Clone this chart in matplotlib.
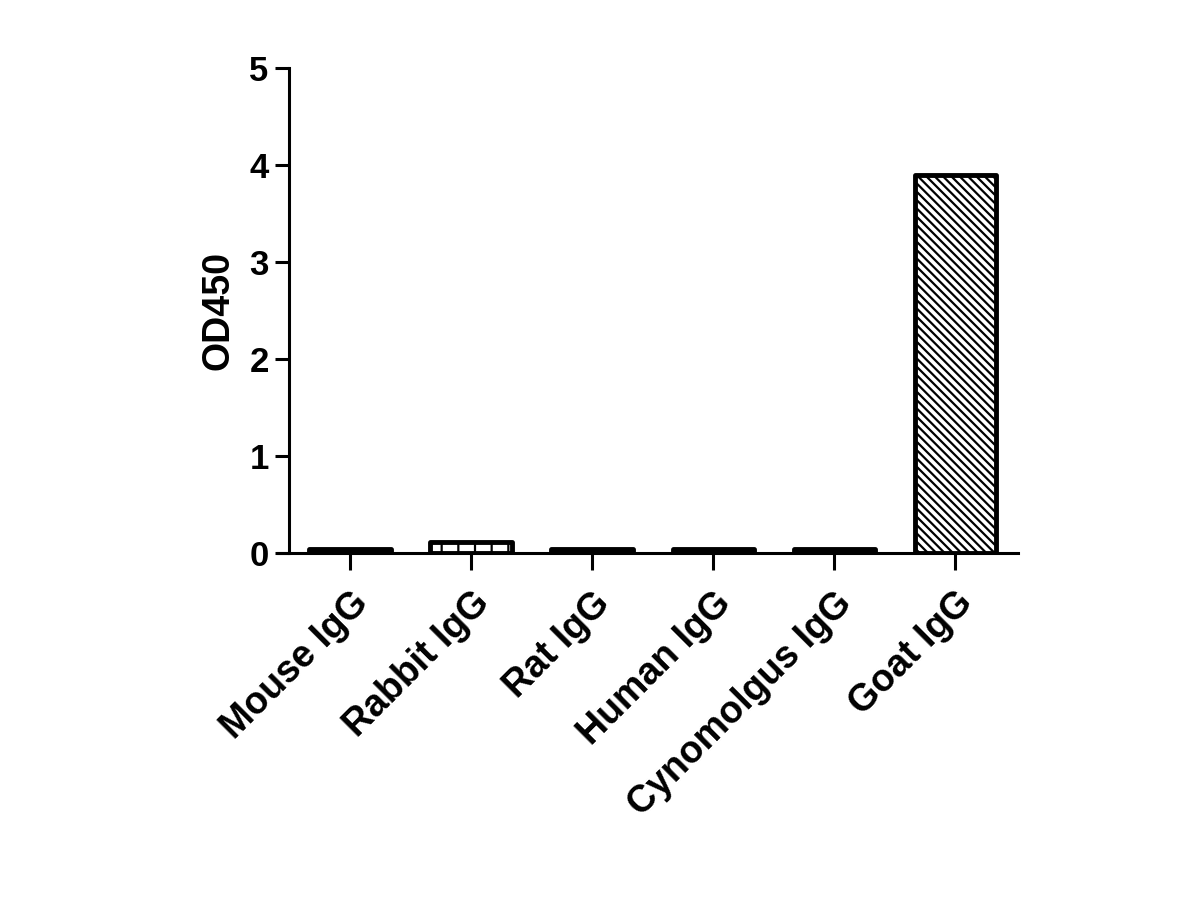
import matplotlib
matplotlib.use("Agg")
import matplotlib.pyplot as plt

plt.rcParams['font.family'] = ['Liberation Sans', 'DejaVu Sans']
plt.rcParams['font.weight'] = 'bold'
plt.rcParams['hatch.linewidth'] = 1.6

# data
categories = ["Mouse IgG", "Rabbit IgG", "Rat IgG", "Human IgG", "Cynomolgus IgG", "Goat IgG"]
od450 = [0.04, 0.11, 0.04, 0.04, 0.04, 3.90]
hatches = ["", "|", "", "", "", "\\\\\\\\"]

fig = plt.figure(figsize=(12, 9), dpi=100)
# axes box in figure fractions (x axis runs from ~278px to ~1018px)
ax = fig.add_axes([278 / 1200, 1 - 553 / 900, 740 / 1200, 485 / 900])

x = range(len(categories))
bars = ax.bar(x, od450, width=0.67, color="white", edgecolor="black",
              linewidth=3.5, joinstyle="round")
for b, h in zip(bars, hatches):
    b.set_hatch(h)

ax.set_xlim(-0.595, 5.52)
ax.set_ylim(0, 5)
ax.set_yticks([0, 1, 2, 3, 4, 5])
ax.set_xticks(list(x))
ax.set_xticklabels(categories, rotation=45, ha="right", rotation_mode="anchor",
                   fontsize=27, fontweight="bold")
ax.tick_params(axis="y", labelsize=25, width=2.2, length=10, pad=5, direction="out")
ax.tick_params(axis="x", width=2.2, length=12, direction="out", pad=11)
for lab in ax.get_yticklabels():
    lab.set_fontweight("bold")

ax.set_ylabel("OD450", fontsize=27, fontweight="bold", va="center")
ax.yaxis.set_label_coords(-0.081, 0.5)

ax.spines["top"].set_visible(False)
ax.spines["right"].set_visible(False)
ax.spines["left"].set_linewidth(2.2)
ax.spines["bottom"].set_linewidth(2.2)
ax.spines["left"].set_position(("data", -0.5))

fig.savefig("out.png", dpi=100)
